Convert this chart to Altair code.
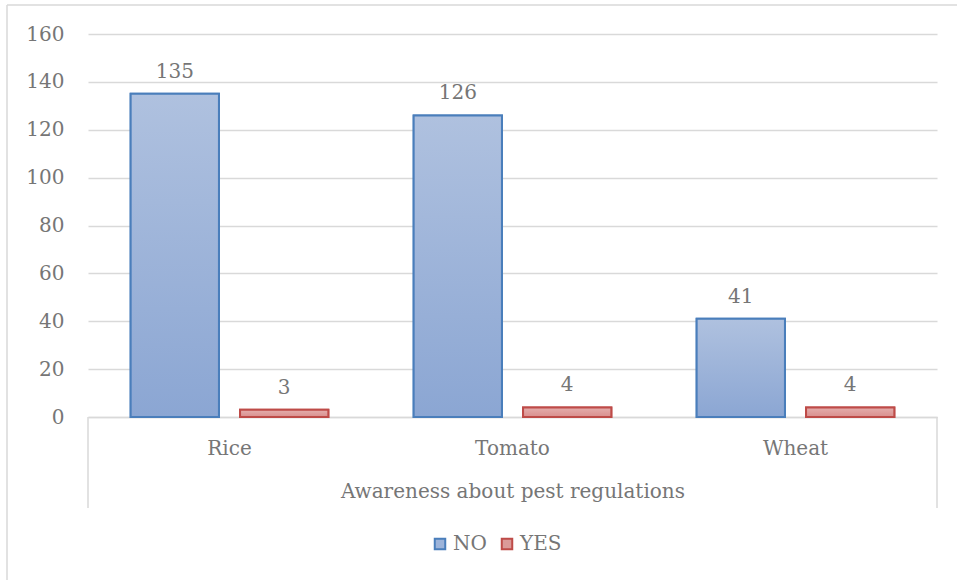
import altair as alt
import pandas as pd

crops = ["Rice", "Tomato", "Wheat"]
no_vals = [135, 126, 41]
yes_vals = [3, 4, 4]
series = ["NO", "YES"]
y_ticks = [0, 20, 40, 60, 80, 100, 120, 140, 160]

rows = []
for c, n, v in zip(crops, no_vals, yes_vals):
    rows.append({"crop": c, "answer": "NO", "count": n})
    rows.append({"crop": c, "answer": "YES", "count": v})
df = pd.DataFrame(rows)

FONT = "DejaVu Serif"
FS = 20
TXT = "#767676"
GRID = "#D9D9D9"
W, H = 849, 383

x_enc = alt.X(
    "crop:N",
    scale=alt.Scale(domain=crops, paddingInner=0, paddingOuter=0),
    axis=alt.Axis(
        title="Awareness about pest regulations",
        labelAngle=0, ticks=False, domainColor=GRID, domainWidth=1.5,
        labelPadding=21, titlePadding=23,
        labelFont=FONT, labelFontSize=FS, labelColor=TXT,
        titleFont=FONT, titleFontSize=FS, titleColor=TXT, titleFontWeight="normal",
        grid=False,
    ),
)
xo_enc = alt.XOffset("answer:N", scale=alt.Scale(domain=series, paddingInner=0.193, paddingOuter=0.39))
y_enc = alt.Y(
    "count:Q",
    scale=alt.Scale(domain=[0, 160]),
    axis=alt.Axis(
        values=y_ticks, title=None, domain=False, ticks=False,
        gridColor=GRID, gridWidth=1.5, labelPadding=24,
        labelFont=FONT, labelFontSize=FS, labelColor=TXT,
    ),
)

legend = alt.Legend(
    title=None, orient="none", legendX=342, legendY=500, direction="horizontal",
    symbolType="square", symbolSize=110, symbolStrokeWidth=2,
    labelFont=FONT, labelFontSize=FS, labelColor=TXT, columnPadding=10, labelOffset=3,
)

base = alt.Chart(df)

legend_bars = base.mark_bar(strokeWidth=2).encode(
    x=x_enc, xOffset=xo_enc, y=y_enc,
    fill=alt.Fill("answer:N", scale=alt.Scale(domain=series, range=["#9DB4DA", "#DB9A99"]), legend=legend),
    stroke=alt.Stroke("answer:N", scale=alt.Scale(domain=series, range=["#4A7EBB", "#BE4B48"]), legend=legend),
)

def grad(top, bottom):
    return alt.Gradient(
        gradient="linear",
        stops=[alt.GradientStop(color=top, offset=0), alt.GradientStop(color=bottom, offset=1)],
        x1=0, x2=0, y1=0, y2=1,
    )

no_bars = base.transform_filter(alt.datum.answer == "NO").mark_bar(
    fill=grad("#AFC1DF", "#8BA6D3"), stroke="#4A7EBB", strokeWidth=2
).encode(x=x_enc, xOffset=xo_enc, y=y_enc)

yes_bars = base.transform_filter(alt.datum.answer == "YES").mark_bar(
    fill=grad("#E4AEAD", "#D98F8E"), stroke="#BE4B48", strokeWidth=2
).encode(x=x_enc, xOffset=xo_enc, y=y_enc)

labels = base.mark_text(baseline="bottom", dy=-12, font=FONT, fontSize=FS, color=TXT).encode(
    x=x_enc, xOffset=xo_enc, y=y_enc, text="count:Q"
)

one = alt.Chart(pd.DataFrame({"k": [0]}))
side_left = one.mark_rule(color=GRID, strokeWidth=1.5).encode(
    x=alt.value(0), y=alt.value(H), y2=alt.value(H + 91))
side_right = one.mark_rule(color=GRID, strokeWidth=1.5).encode(
    x=alt.value(W), y=alt.value(H), y2=alt.value(H + 91))
border_left = one.mark_rule(color=GRID, strokeWidth=1.5).encode(
    x=alt.value(-81), y=alt.value(-29), y2=alt.value(H + 170))
border_top = one.mark_rule(color=GRID, strokeWidth=1.5).encode(
    x=alt.value(-81), x2=alt.value(W + 30), y=alt.value(-29))

chart = alt.layer(
    border_left, border_top, side_left, side_right,
    legend_bars, no_bars, yes_bars, labels,
).properties(
    width=W, height=H,
    autosize=alt.AutoSizeParams(type="none"),
    padding={"left": 88, "top": 34, "right": 20, "bottom": 163},
    background="white",
).configure_view(stroke=None)

chart.save("out.html", embed_options={"renderer": "svg", "actions": False})
